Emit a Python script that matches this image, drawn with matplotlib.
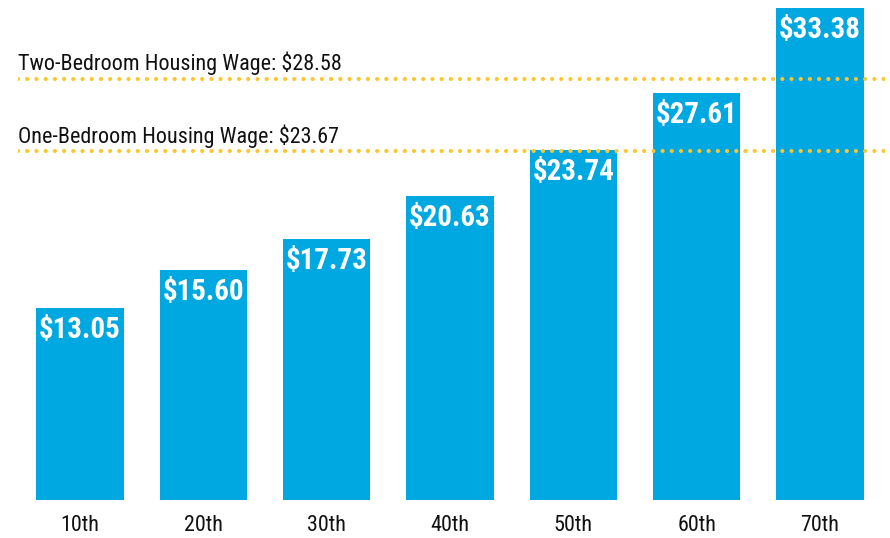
import matplotlib.pyplot as plt
from matplotlib import font_manager
from matplotlib.font_manager import FontProperties

# Data
percentiles = ["10th", "20th", "30th", "40th", "50th", "60th", "70th"]
wages = [13.05, 15.60, 17.73, 20.63, 23.74, 27.61, 33.38]
housing_labels = ["Two-Bedroom Housing Wage: $28.58", "One-Bedroom Housing Wage: $23.67"]
housing_wages = [28.58, 23.67]


# look for a narrow / condensed font, the original uses a condensed face
def find_font(bold):
    narrow = [f for f in font_manager.fontManager.ttflist
              if ("Condensed" in f.fname or "Narrow" in f.fname) and f.style == "normal"]
    for key in ["LiberationSansNarrow", "RobotoCondensed", "OpenSans_Condensed", "OpenSansCondensed", "DejaVuSansCondensed"]:
        for f in narrow:
            w = f.weight if isinstance(f.weight, int) else (700 if "bold" in str(f.weight).lower() else 400)
            if key.lower() in f.fname.replace("-", "").replace(" ", "").lower() and (w >= 700) == bold:
                return f.fname
    return None


reg_path = find_font(False)
bold_path = find_font(True)


def fp(path, size, bold=False):
    if path:
        return FontProperties(fname=path, size=size)
    return FontProperties(family="DejaVu Sans", size=size, weight="bold" if bold else "normal")


blue = "#00A8E1"
yellow = "#FDC530"

fig = plt.figure(figsize=(8.9, 5.38), dpi=100)
ax = fig.add_axes([18 / 890, 38 / 538, 867 / 890, 500 / 538])

x = list(range(len(percentiles)))
ax.bar(x, wages, width=0.71, color=blue, zorder=2)

value_texts = []
for xi, v in zip(x, wages):
    t = ax.annotate(f"${v:.2f}", (xi, v), xytext=(0, -6), textcoords="offset points",
                    ha="center", va="top", color="white", fontproperties=fp(bold_path, 19, True), zorder=4)
    value_texts.append(t)

label_texts = []
for lbl, hw in zip(housing_labels, housing_wages):
    ax.axhline(hw, color=yellow, lw=3, linestyle=(0, (0.01, 2.2)),
               dash_capstyle="round", zorder=3)
    t = ax.annotate(lbl, (0, hw), xycoords=("axes fraction", "data"), xytext=(0, 6),
                    textcoords="offset points", ha="left", va="baseline",
                    color="#111111", fontproperties=fp(reg_path, 16))
    label_texts.append(t)

ax.set_xlim(-0.503, 6.527)
ax.set_ylim(0, 33.92)
ax.set_xticks(x)
ax.set_xticklabels(percentiles, color="#111111")
for t in ax.get_xticklabels():
    t.set_fontproperties(fp(reg_path, 15))
ax.tick_params(axis="x", length=0, pad=11)
ax.set_yticks([])
for s in ax.spines.values():
    s.set_visible(False)

# fit font sizes to the widths measured on the original (pixels)
fig.canvas.draw()
r = fig.canvas.get_renderer()


def fit(texts, target):
    w = texts[0].get_window_extent(r).width
    for t in texts:
        t.set_fontsize(t.get_fontsize() * target / w)


fit(label_texts, 325)
fit(value_texts, 82)
fit(ax.get_xticklabels(), 39)

fig.savefig("out.png", dpi=100)
